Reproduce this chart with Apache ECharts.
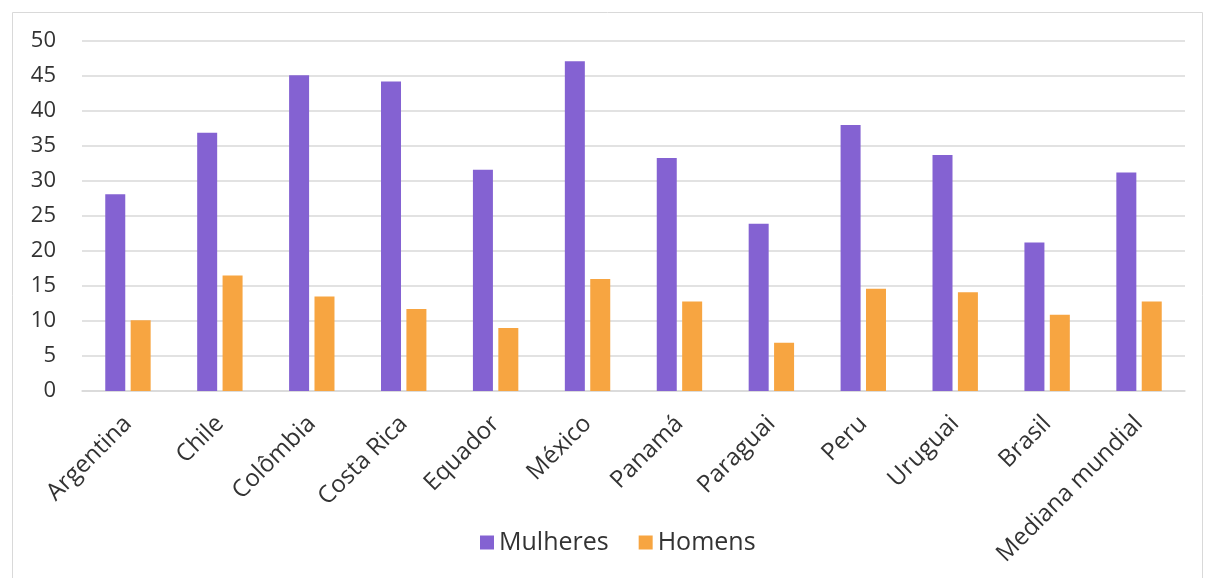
<!DOCTYPE html>
<html>
<head>
<meta charset="utf-8">
<script src="https://cdn.jsdelivr.net/npm/echarts@6/dist/echarts.min.js"></script>
<style>
html,body{margin:0;padding:0;background:#fff;}
#main{width:1209px;height:578px;}
</style>
</head>
<body>
<div id="main"></div>
<script>
const categories = ['Argentina','Chile','Colômbia','Costa Rica','Equador','México','Panamá','Paraguai','Peru','Uruguai','Brasil','Mediana mundial'];
const mulheres = [28.1, 36.9, 45.1, 44.2, 31.6, 47.1, 33.3, 23.9, 38.0, 33.7, 21.2, 31.2];
const homens = [10.1, 16.5, 13.5, 11.7, 9.0, 16.0, 12.8, 6.9, 14.6, 14.1, 10.9, 12.8];
const seriesNames = ['Mulheres','Homens'];

const FONT = '"Open Sans", sans-serif';
const chart = echarts.init(document.getElementById('main'));
chart.setOption({
  backgroundColor: '#ffffff',
  animation: false,
  graphic: [{
    type: 'rect', left: 10, top: 10,
    shape: {width: 1190, height: 600},
    style: {fill: 'none', stroke: '#d9d9d9', lineWidth: 1},
    silent: true, z: -1
  }],
  grid: {left: 82, right: 24, top: 41, bottom: 187},
  legend: {
    data: seriesNames,
    left: 475, top: 525,
    itemWidth: 14, itemHeight: 14, itemGap: 30,
    icon: 'rect',
    textStyle: {fontFamily: FONT, fontSize: 25, color: '#333333'}
  },
  xAxis: {
    type: 'category',
    data: categories,
    axisLine: {show: true, lineStyle: {color: '#d9d9d9', width: 1.5}},
    axisTick: {show: false},
    axisLabel: {rotate: 45, interval: 0, margin: 29, fontFamily: FONT, fontSize: 24, color: '#333333'}
  },
  yAxis: {
    type: 'value',
    min: 0, max: 50, interval: 5,
    axisLine: {show: false},
    axisTick: {show: false},
    splitLine: {lineStyle: {color: '#d9d9d9', width: 1.5}},
    axisLabel: {margin: 26, fontFamily: FONT, fontSize: 22, color: '#333333'}
  },
  series: [
    {name: seriesNames[0], type: 'bar', data: mulheres, barWidth: 20, barGap: '27%', itemStyle: {color: '#8462D2'}},
    {name: seriesNames[1], type: 'bar', data: homens, barWidth: 20, itemStyle: {color: '#F7A541'}}
  ]
});
</script>
</body>
</html>
